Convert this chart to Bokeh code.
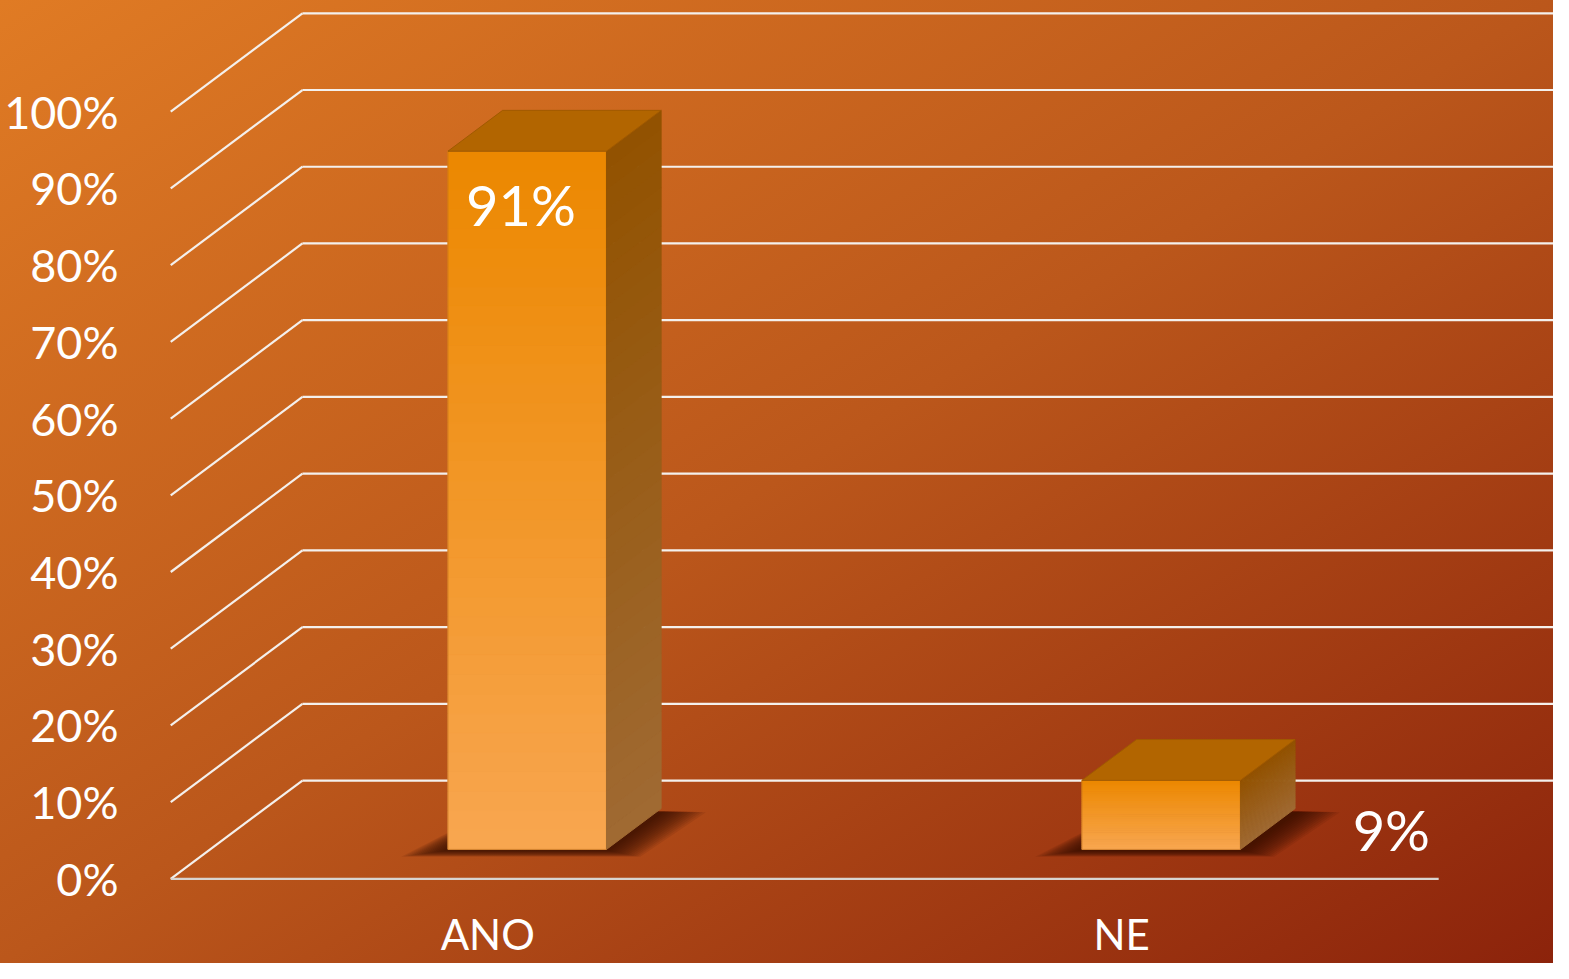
import numpy as np
from bokeh.plotting import figure
from bokeh.models import Range1d, LinearAxis, FixedTicker, PrintfTickFormatter
from bokeh.core.properties import value
from bokeh.embed import file_html
from bokeh.resources import INLINE

# ---------------- data ----------------
CATEGORIES = ["ANO", "NE"]
VALUES = [91, 9]
LABELS = ["91%", "9%"]
TICKS = [0, 10, 20, 30, 40, 50, 60, 70, 80, 90, 100]

# ---------------- layout / projection ----------------
W, H = 1553, 963
SX, SY = W / 1569, H / 979          # scale of the reference layout
X0_PX, CAT_PX = 172, 640.5          # floor front-left corner, px per category (reference)
Y0_PX, PCT_PX = 893, 7.8            # floor front line, px per percent (reference)
FRAME_LEFT = 134

FONT = value("Lato")
DX = 133 / CAT_PX        # depth shift in category units
DY = 100 / PCT_PX        # depth shift in percent units
D0, D1 = 0.30, 0.715     # bar depth (front, back) as fraction of floor depth
BAR_W = 0.25
N_STRIPS = 36

x_start = (FRAME_LEFT / SX - X0_PX) / CAT_PX
x_end = (W / SX - X0_PX) / CAT_PX
y_top = Y0_PX / PCT_PX
y_bot = (Y0_PX - H / SY) / PCT_PX

p = figure(width=W, height=H, output_backend="svg", toolbar_location=None,
           x_range=Range1d(x_start, x_end), y_range=Range1d(y_bot, y_top),
           min_border_left=FRAME_LEFT, min_border_right=0, min_border_top=0, min_border_bottom=0,
           x_axis_location=None, y_axis_location=None)
p.grid.visible = False
p.outline_line_color = None
p.background_fill_alpha = 0
p.border_fill_alpha = 0
p.styles = {"background": "linear-gradient(to bottom right, #E07B24 0%, #BB571B 50%, #8C230B 100%)"}

# y axis
yax = LinearAxis(ticker=FixedTicker(ticks=TICKS), formatter=PrintfTickFormatter(format="%d%%"))
yax.axis_line_color = None
yax.major_tick_line_color = None
yax.minor_tick_line_color = None
yax.major_label_text_color = "white"
yax.major_label_text_font = "Lato"
yax.major_label_text_font_size = "45px"
yax.major_label_standoff = 10
p.add_layout(yax, "left")

ncat = len(CATEGORIES)
nt = len(TICKS)

# back wall horizontal gridlines
p.segment(x0=[DX] * nt, y0=[t + DY for t in TICKS], x1=[x_end] * nt, y1=[t + DY for t in TICKS],
          line_color="#F4F0EC", line_width=2.2)
# side wall diagonals
p.segment(x0=[0] * nt, y0=TICKS, x1=[DX] * nt, y1=[t + DY for t in TICKS],
          line_color="#F4F0EC", line_width=2.2)
# front floor edge
p.segment(x0=[0], y0=[0], x1=[ncat], y1=[0], line_color="#D8D4D0", line_width=2.2)

centers = [i + 0.5 for i in range(ncat)]

# soft shadows on the floor
for c in centers:
    xl0 = c - BAR_W / 2 + D0 * DX
    xr0 = c + BAR_W / 2 + D0 * DX
    xl1 = c - BAR_W / 2 + D1 * DX
    xr1 = c + BAR_W / 2 + D1 * DX
    y0 = D0 * DY
    y1 = D1 * DY
    for k in range(14):
        ex = (4 + k * 2.6) / CAT_PX
        ey = (0.5 + k * 0.45) / PCT_PX
        xs = [xl0 - ex * 1.25, xr0 + ex * 0.9, xr1 + ex * 1.2, xl1 - ex * 0.4]
        ys = [y0 - ey - 0.15, y0 - ey - 0.15, y1 - ey * 0.2 - 0.3, y1 - ey * 0.2 - 0.3]
        p.patch(xs, ys, fill_color="#2A0800", fill_alpha=0.09, line_color=None)


def lerp_hex(a, b, t):
    a = [int(a[i:i + 2], 16) for i in (1, 3, 5)]
    b = [int(b[i:i + 2], 16) for i in (1, 3, 5)]
    return "#%02x%02x%02x" % tuple(int(round(a[j] + (b[j] - a[j]) * t)) for j in range(3))


# bars
for c, v in zip(centers, VALUES):
    xl0 = c - BAR_W / 2 + D0 * DX
    xr0 = c + BAR_W / 2 + D0 * DX
    xr1 = c + BAR_W / 2 + D1 * DX
    xl1 = c - BAR_W / 2 + D1 * DX
    yb0 = D0 * DY
    yb1 = D1 * DY
    fr = np.linspace(0, 1, N_STRIPS + 1)  # 0 = top, 1 = bottom
    # front face
    tops = [yb0 + v * (1 - f) for f in fr[:-1]]
    bots = [yb0 + v * (1 - f) for f in fr[1:]]
    cols = [lerp_hex("#EC8800", "#F8A650", (fr[i] + fr[i + 1]) / 2) for i in range(N_STRIPS)]
    p.quad(left=[xl0] * N_STRIPS, right=[xr0] * N_STRIPS, top=tops, bottom=bots,
           fill_color=cols, line_color=cols, line_width=1)
    p.quad(left=[xl0], right=[xr0], top=[yb0 + v], bottom=[yb0],
           fill_alpha=0, line_color="#C07020", line_width=1, line_alpha=0.6)
    # right side face
    xs_list, ys_list, scol = [], [], []
    for i in range(N_STRIPS):
        ft, fb = fr[i], fr[i + 1]
        xs_list.append([xr0, xr1, xr1, xr0])
        ys_list.append([yb0 + v * (1 - fb), yb1 + v * (1 - fb), yb1 + v * (1 - ft), yb0 + v * (1 - ft)])
        scol.append(lerp_hex("#925200", "#A06A33", (ft + fb) / 2))
    p.patches(xs_list, ys_list, fill_color=scol, line_color=scol, line_width=1)
    # top face
    p.patch([xl0, xr0, xr1, xl1], [yb0 + v, yb0 + v, yb1 + v, yb1 + v],
            fill_color="#B26500", line_color="#A05A00", line_width=1)

# value labels
LABEL_DX = [-0.01, 0.363]
LABEL_DY = [-7.0, -6.45]
p.text(x=[c + D0 * DX + dx for c, dx in zip(centers, LABEL_DX)],
       y=[v + D0 * DY + dy for v, dy in zip(VALUES, LABEL_DY)],
       text=LABELS, text_color="white", text_font=FONT, text_font_size="56px",
       text_align="center", text_baseline="middle")

# category labels
p.text(x=centers, y=[-7.2] * ncat, text=CATEGORIES, text_color="white", text_font=FONT,
       text_font_size="42px", text_align="center", text_baseline="middle")

open("out.html", "w").write(file_html(p, INLINE))
